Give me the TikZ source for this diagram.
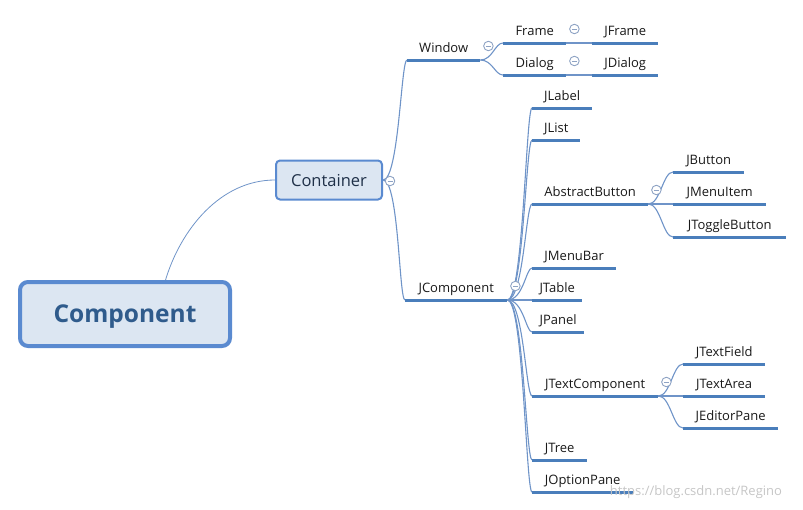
\documentclass[tikz,border=0pt]{standalone}
\usepackage{fontspec}
\setmainfont{Open Sans}
\usepackage{tikz}
\usetikzlibrary{calc}
\definecolor{lineBlue}{HTML}{4A7EBB}
\definecolor{connBlue}{HTML}{6F94C8}
\definecolor{rootFill}{HTML}{DCE6F2}
\definecolor{rootEdge}{HTML}{5A8AD0}
\definecolor{rootText}{HTML}{2F5B8C}
\definecolor{boxText}{HTML}{1F3048}
\definecolor{knobGray}{HTML}{8EA3C4}

\begin{document}
\begin{tikzpicture}[x=1pt, y=-1pt,
  topic/.style={anchor=south west, inner xsep=0pt, inner ysep=0pt,
    text height=10pt, text depth=7.5pt, align=center,
    font=\fontsize{13}{15}\selectfont, text=black!90},
  uline/.style={draw=lineBlue, line width=3pt},
  conn/.style={draw=connBlue, line width=1.1pt},
  collapse/.style={circle, draw=knobGray, fill=white, line width=0.9pt,
    minimum size=9.5pt, inner sep=0pt,
    path picture={\draw[knobGray, line width=0.9pt]
      ([xshift=-2.5pt]path picture bounding box.center) --
      ([xshift=2.5pt]path picture bounding box.center);}}
]
  \useasboundingbox (0,0) rectangle (803,509);

  % Root and second level
  \node[draw=rootEdge, line width=4pt, fill=rootFill, rounded corners=8pt,
    minimum width=210pt, minimum height=64pt, text=rootText,
    text height=17pt, text depth=0pt,
    font=\fontsize{24.5}{30}\selectfont\bfseries] (root) at (125,314) {Component};
  \node[draw=rootEdge, line width=2pt, fill=rootFill, rounded corners=4pt,
    minimum width=106pt, minimum height=39pt, text=boxText,
    text height=12pt, text depth=0pt,
    font=\fontsize{16.5}{20}\selectfont] (container) at (329,180) {Container};

  % Window branch
  \node[topic, minimum width=73pt] (window) at (407,60) {Window};
  \node[topic, minimum width=63pt] (frame) at (503,43) {Frame};
  \node[topic, minimum width=66pt] (jframe) at (592,43) {JFrame};
  \node[topic, minimum width=63pt] (dialog) at (503,75) {Dialog};
  \node[topic, minimum width=66pt] (jdialog) at (592,75) {JDialog};

  % JComponent branch
  \node[topic, minimum width=102pt] (jcomp) at (405,300) {JComponent};
  \node[topic, minimum width=60pt] (jlabel) at (532,108) {JLabel};
  \node[topic, minimum width=48pt] (jlist) at (532,140) {JList};
  \node[topic, minimum width=116pt] (absbtn) at (532,204) {AbstractButton};
  \node[topic, minimum width=84pt] (jmenubar) at (532,268) {JMenuBar};
  \node[topic, minimum width=50pt] (jtable) at (532,300) {JTable};
  \node[topic, minimum width=52pt] (jpanel) at (532,332) {JPanel};
  \node[topic, minimum width=126pt] (jtextcomp) at (532,396) {JTextComponent};
  \node[topic, minimum width=55pt] (jtree) at (532,460) {JTree};
  \node[topic, minimum width=101pt] (joption) at (532,492) {JOptionPane};

  % Buttons
  \node[topic, minimum width=71pt] (jbutton) at (673,172) {JButton};
  \node[topic, minimum width=93pt] (jmenuitem) at (673,204) {JMenuItem};
  \node[topic, minimum width=113pt] (jtoggle) at (673,237) {JToggleButton};

  % Text components
  \node[topic, minimum width=82pt] (jtextfield) at (683,364) {JTextField};
  \node[topic, minimum width=82pt] (jtextarea) at (683,396) {JTextArea};
  \node[topic, minimum width=95pt] (jeditor) at (683,428) {JEditorPane};

  % Connectors
  \draw[conn, line width=0.8pt] (root.40) .. controls +(15,-50) and +(-55,0) .. (container.west);
  \foreach \c in {window,jcomp}
    \draw[conn] (container.east) .. controls +(16,0) and +(-6,0) .. (\c.south west);
  \foreach \c in {frame,dialog}
    \draw[conn] (window.south east) .. controls +(12,0) and +(-8,0) .. (\c.south west);
  \draw[conn] (frame.south east) -- (jframe.south west);
  \draw[conn] (dialog.south east) -- (jdialog.south west);
  \foreach \c in {jlabel,jlist,absbtn,jmenubar,jtable,jpanel,jtextcomp,jtree,joption}
    \draw[conn] (jcomp.south east) .. controls +(16,0) and +(-6,0) .. (\c.south west);
  \foreach \c in {jbutton,jmenuitem,jtoggle}
    \draw[conn] (absbtn.south east) .. controls +(12,0) and +(-10,0) .. (\c.south west);
  \foreach \c in {jtextfield,jtextarea,jeditor}
    \draw[conn] (jtextcomp.south east) .. controls +(12,0) and +(-10,0) .. (\c.south west);

  % Underlines
  \foreach \n in {window,frame,jframe,dialog,jdialog,jcomp,jlabel,jlist,absbtn,
      jmenubar,jtable,jpanel,jtextcomp,jtree,joption,jbutton,jmenuitem,jtoggle,
      jtextfield,jtextarea,jeditor}
    \draw[uline] (\n.south west) -- (\n.south east);

  % Collapse knobs
  \node[collapse] (container-c) at ($(container.east)+(7,1)$) {};
  \foreach \n in {window,frame,dialog,jcomp,absbtn,jtextcomp}
    \node[collapse] (\n-c) at ($(\n.south east)+(8,-14)$) {};

  % Watermark
  \node[font=\fontsize{13}{15}\selectfont, text=gray!45] (wmark) at (696,492)
    {https://blog.csdn.net/Regino};
\end{tikzpicture}
\end{document}
